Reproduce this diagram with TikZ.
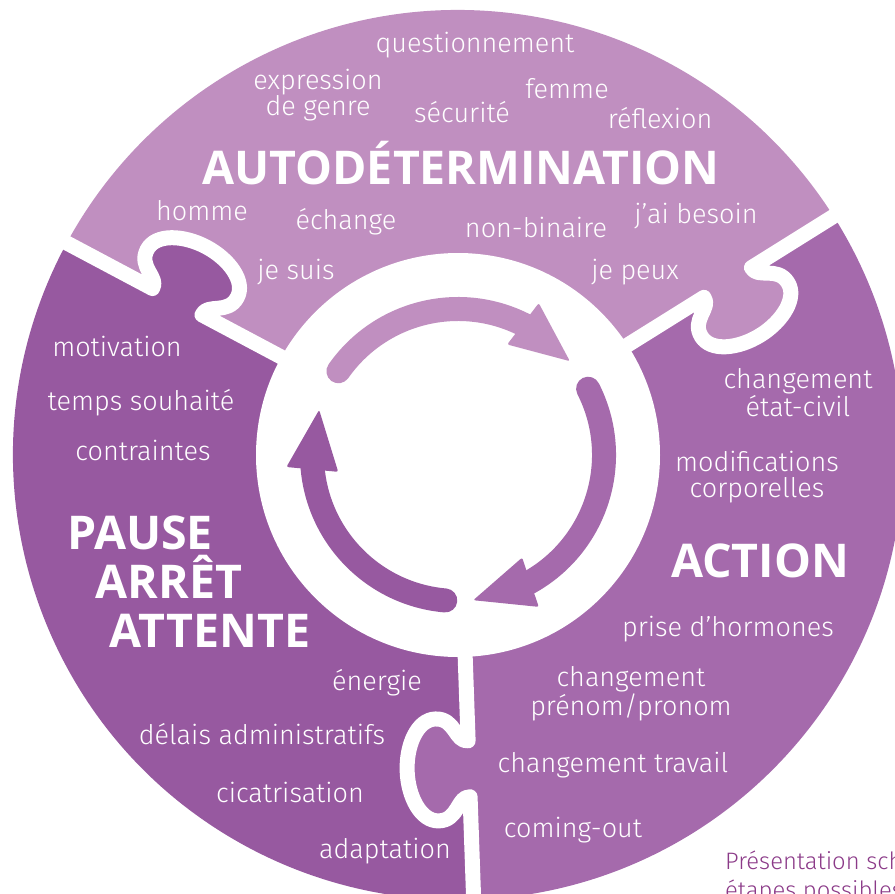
\documentclass[tikz,border=0pt]{standalone}
\usepackage{fontspec}
\setmainfont{Fira Sans}[UprightFont=* Light, BoldFont=* Bold]
\newfontfamily\headfont{Open Sans}
\usetikzlibrary{calc}

\definecolor{toppart}{HTML}{C08FC0}
\definecolor{rightpart}{HTML}{A56AAC}
\definecolor{leftpart}{HTML}{9759A0}
\definecolor{notecol}{HTML}{8B3A88}

% contour d'un tenon de puzzle (repere local : x le long de la coupe)
\newcommand{\tabcurve}{(290,0) .. controls (291,-13) and (267,-12) .. (267,-32) .. controls (267,-50) and (292,-62) .. (318,-62) .. controls (344,-62) and (369,-50) .. (369,-32) .. controls (369,-12) and (345,-13) .. (346,0)}

\begin{document}
\begin{tikzpicture}[x=1pt, y=1pt,
    word/.style={text=white, font=\fontsize{27}{26}\selectfont, anchor=base, align=center, inner sep=0pt},
    bigword/.style={text=white, font=\headfont\bfseries\fontsize{46.5}{46.5}\selectfont, anchor=base, inner sep=0pt},
    seam/.style={draw=white, line width=15pt, line join=round},
    cyclearc/.style={line width=24pt, line cap=round}]
    \useasboundingbox (0,0) rectangle (895,-894);
    \clip (0,0) rectangle (895,-894);
    \coordinate (C) at (458,-455);
    \coordinate (L) at (458,-451);
    % les trois parties
    \fill[toppart] (C) -- ++(32:445) arc[start angle=32, end angle=152, radius=445] -- cycle;
    \fill[leftpart] (C) -- ++(152:445) arc[start angle=152, end angle=272, radius=445] -- cycle;
    \fill[rightpart] (C) -- ++(-88:445) arc[start angle=-88, end angle=32, radius=445] -- cycle;
    % tenons et coupes blanches
    \foreach \ang/\col in {152/leftpart, 32/toppart, -88/rightpart} {
        \begin{scope}[shift={(L)}, rotate=\ang]
            \fill[\col] \tabcurve -- (346,10) -- (290,10) -- cycle;
            \draw[seam] (150,0) -- \tabcurve -- (470,0);
        \end{scope}
    }
    \fill[white] (C) circle[radius=202];
    % fleches du cycle
    \foreach \col/\tail/\tip [evaluate=\tip as \base using \tip+22] in {toppart/145/40, rightpart/27/-84, leftpart/265/162} {
        \draw[\col, cyclearc] ($(C)+(\tail:146)$) arc[start angle=\tail, end angle=\base, radius=146];
        \fill[\col, rounded corners=2pt] ($(C)+(\tip+26:121)$) -- ($(C)+(\tip+22:172)$) -- ($(C)+(\tip:146)$) -- cycle;
    }
    % partie du haut
    \node[word] (quest) at (475,-52) {questionnement};
    \node[word] (expr) at (318,-115) {expression\\de genre};
    \node[word] (secu) at (462,-122) {sécurité};
    \node[word] (femme) at (567,-98) {femme};
    \node[word] (refl) at (660,-128) {réflexion};
    \node[bigword] (auto) at (461,-184) {AUTODÉTERMINATION};
    \node[word] (homme) at (202,-220) {homme};
    \node[word] (echange) at (346,-229) {échange};
    \node[word] (nonbin) at (536,-237) {non-binaire};
    \node[word] (besoin) at (696,-223) {j’ai besoin};
    \node[word] (suis) at (296,-279) {je suis};
    \node[word] (peux) at (635,-279) {je peux};
    % partie de gauche
    \node[word] (motiv) at (117,-356) {motivation};
    \node[word] (temps) at (141,-410) {temps souhaité};
    \node[word] (contr) at (143,-460) {contraintes};
    \node[bigword] (pause) at (140,-549) {PAUSE};
    \node[bigword] (arret) at (169,-598) {ARRÊT};
    \node[bigword] (attente) at (210,-647) {ATTENTE};
    \node[word] (energie) at (377,-690) {énergie};
    \node[word] (delais) at (262,-744) {délais administratifs};
    \node[word] (cicat) at (290,-802) {cicatrisation};
    \node[word] (adapt) at (385,-858) {adaptation};
    % partie de droite
    \node[word] (etatciv) at (798,-416) {changement\\état-civil};
    \node[word] (modif) at (757,-497) {modifications\\corporelles};
    \node[bigword] (action) at (760,-577) {ACTION};
    \node[word] (hormones) at (728,-636) {prise d’hormones};
    \node[word] (prenom) at (631,-715) {changement\\prénom/pronom};
    \node[word] (travail) at (613,-772) {changement travail};
    \node[word] (comingout) at (573,-837) {coming-out};
    % legende
    \node[anchor=base west, inner sep=0pt, text=notecol, font=\fontsize{23.8}{29}\selectfont, align=left] (note) at (725,-898) {Présentation sch\\étapes possibles};
\end{tikzpicture}
\end{document}
